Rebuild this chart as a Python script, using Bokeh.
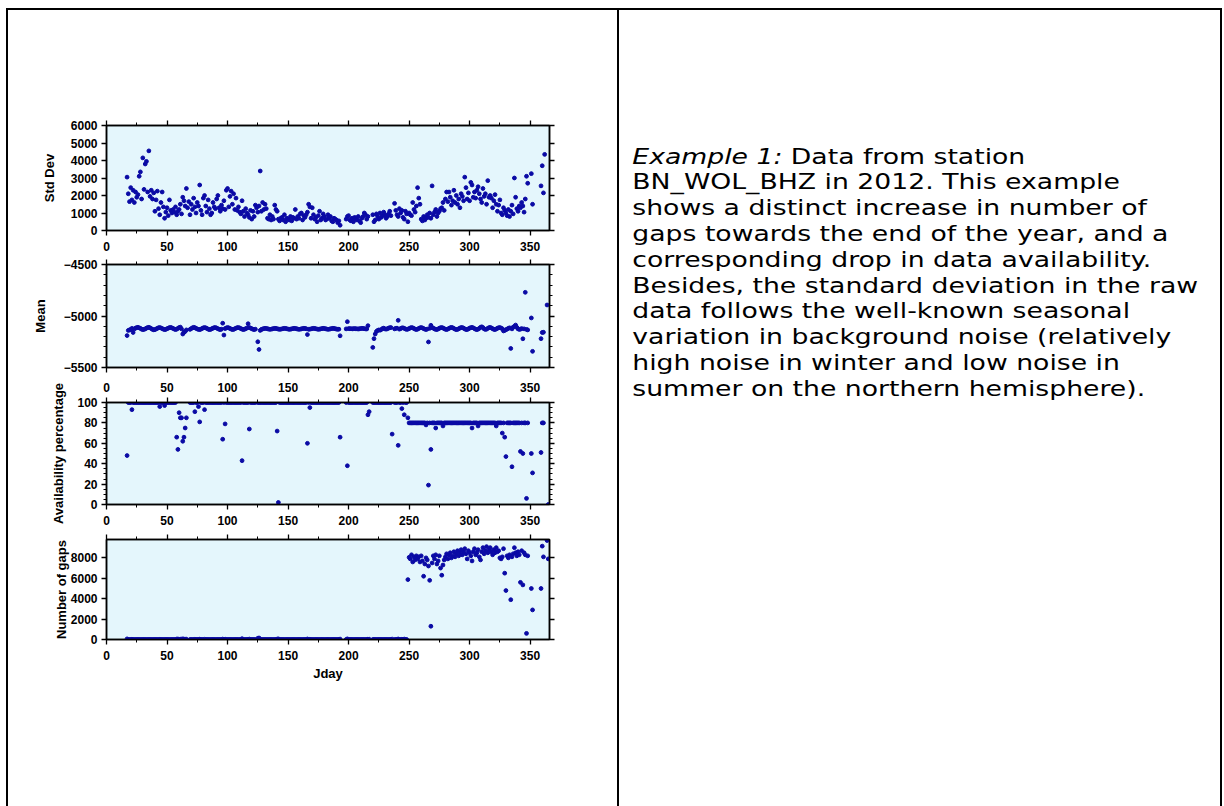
import numpy as np
from bokeh.plotting import figure
from bokeh.layouts import column, row
from bokeh.models import (Range1d, LinearAxis, SingleIntervalTicker, Spacer, Div,
                          ColumnDataSource, CustomLabelingPolicy)
from bokeh.core.properties import value
from bokeh.embed import file_html
from bokeh.resources import INLINE

# ---------------- data (one value per Julian day, 17 .. 366) ----------------
days = list(range(17, 367))

std_dev = [
    3050, 2100, 1650, 2450, 1750, 2300, 1600, 2200, 1900, 2050,
    3100, 3350, 1800, 4150, 2350, 3800, 3950, 2200, 4550, 1950,
    2300, 1800, 2150, 1100, 1750, 2250, 1250, 900, 1600, 2200,
    1350, 700, 1050, 1300, 850, 1750, 1150, 1000, 1200, 1050,
    1350, 900, 1100, 1200, 1500, 950, 1900, 1700, 1400, 2400,
    1300, 1650, 900, 1500, 1200, 1850, 1350, 1000, 1600, 1400,
    2600, 1150, 900, 1850, 2000, 1400, 1050, 1750, 1250, 900,
    1000, 1600, 1350, 1250, 1800, 2000, 1300, 1100, 1450, 1250,
    1700, 1200, 2300, 2400, 1350, 1950, 2250, 1500, 2100, 1200,
    1850, 1150, 1350, 1050, 950, 1700, 1100, 800, 1250, 1000,
    900, 750, 1150, 650, 1100, 800, 1450, 1300, 1050, 1400,
    3400, 1100, 1600, 1200, 1500, 1250, 700, 650, 900, 600,
    800, 650, 1450, 1200, 1100, 650, 550, 700, 750, 600,
    900, 500, 700, 650, 600, 800, 550, 750, 700, 1200,
    650, 800, 700, 950, 1000, 600, 850, 750, 900, 1050,
    1500, 1350, 700, 1300, 900, 650, 750, 500, 850, 1100,
    600, 700, 950, 800, 600, 650, 900, 700, 800, 550,
    500, 700, 650, 600, 450, 550, 300, None, None, None,
    None, 650, 800, 850, 600, 550, 700, 500, 750, 650,
    600, 800, 550, 450, 700, 800, 1000, 900, 650, 800,
    None, None, None, 900, 500, 600, 950, 800, 650, 1000,
    750, 850, 1050, 900, 700, 800, 950, 1100, 850, None,
    None, 1550, 1150, 900, 800, 1250, 1000, 1150, 750, 650,
    1100, 950, 500, 1000, 900, 850, 1600, 1200, 1050, 1400,
    2450, 1850, 1500, 650, 550, 800, 600, 700, 900, 750,
    1000, 700, 2550, 900, 1050, 1200, 800, 1000, 1100, 1250,
    1300, 1600, 1150, 1800, 2200, 1650, 2200, 1900, 1450, 1700,
    2300, 1600, 2000, 1500, 1800, 1300, 2100, 1950, 1700, 3050,
    2450, 1800, 2150, 1700, 2750, 2600, 1900, 2200, 1850, 2300,
    2500, 2100, 1800, 1600, 2400, 1950, 2100, 1500, 2850, 1900,
    2000, 1850, 1300, 1700, 2050, 1500, 1100, 1450, 1750, 1000,
    900, 1300, 1150, 1000, 850, 1200, 800, 1100, 1450, 950,
    3000, 1900, 1250, 1100, 1400, 1300, 1600, 1400, 1050, 1800,
    3100, 2700, None, None, 3250, 1500, None, None, None, None,
    None, None, 2550, 3700, 2150, 4350, None, None, None, None,
]

mean = [
    -5190, -5140, -5135, -5130, -5120, -5160, -5125, -5118, -5112, -5110,
    -5115, -5120, -5128, -5132, -5130, -5125, -5118, -5112, -5110, -5115,
    -5122, -5130, -5134, -5132, -5126, -5120, -5114, -5112, -5116, -5122,
    -5128, -5132, -5130, -5124, -5118, -5113, -5111, -5115, -5121, -5127,
    -5131, -5128, -5120, -5112, -5108, -5125, -5175, -5160, -5150, -5135,
    None, None, -5130, -5122, -5115, -5110, -5113, -5120, -5126, -5130,
    -5132, -5128, -5121, -5115, -5112, -5115, -5121, -5128, -5132, -5130,
    -5124, -5118, -5113, -5112, -5117, -5123, -5129, -5132, -5128, -5070,
    -5185, -5122, -5116, -5112, -5115, -5121, -5127, -5131, -5130, -5124,
    -5118, -5113, -5112, -5116, -5122, -5128, -5131, -5129, -5123, -5117,
    -5075, -5113, -5117, -5123, -5129, -5132, -5128, None, -5250, -5325,
    -5140, -5130, -5126, -5122, -5120, -5121, -5124, -5127, -5129, -5128,
    -5125, -5122, -5120, -5121, -5124, -5127, -5129, -5128, -5125, -5122,
    -5120, -5121, -5124, -5127, -5129, -5128, -5125, -5122, -5120, -5121,
    -5124, -5127, -5129, -5128, -5125, -5122, -5120, -5121, -5124, -5180,
    -5129, -5128, -5125, -5122, -5120, -5121, -5124, -5127, -5129, -5128,
    -5125, -5122, -5120, -5121, -5124, -5127, -5129, -5128, -5125, -5122,
    -5120, -5121, -5124, -5127, -5129, -5128, -5192, None, None, None,
    None, -5125, -5055, -5122, -5123, -5124, -5125, -5123, -5122, -5124,
    -5125, -5126, -5124, -5122, -5120, -5121, -5123, -5125, -5126, -5094,
    None, None, None, -5305, -5220, -5175, -5150, -5140, -5135, -5138,
    -5132, -5122, -5118, -5125, -5128, -5124, -5118, -5114, -5112, None,
    None, -5125, -5120, -5118, -5042, -5128, -5122, -5116, -5115, -5120,
    -5126, -5130, -5128, -5122, -5116, -5112, -5115, -5121, -5128, -5131,
    -5128, -5121, -5115, -5112, -5116, -5122, -5128, -5131, -5127, -5252,
    -5120, -5090, -5113, -5118, -5125, -5130, -5131, -5126, -5119, -5114,
    -5112, -5116, -5123, -5129, -5131, -5127, -5120, -5114, -5111, -5114,
    -5121, -5128, -5132, -5130, -5124, -5117, -5112, -5112, -5118, -5125,
    -5131, -5131, -5125, -5118, -5113, -5111, -5115, -5122, -5129, -5132,
    -5128, -5120, -5110, -5105, -5112, -5125, -5130, -5128, -5120, -5113,
    -5111, -5116, -5123, -5130, -5131, -5126, -5119, -5114, -5112, -5117,
    -5124, -5145, -5140, -5133, -5127, -5120, -5115, -5315, -5125, -5108,
    -5100, -5088, -5110, -5125, -5130, -5128, -5122, -5221, -5125, -4770,
    -5130, -5135, None, None, -5019, -5343, None, None, None, None,
    None, None, -5220, -5160, -5158, None, None, -4893, None, None,
]

availability = [
    48, 100, 100, 100, 93, 100, 100, 100, 100, 100,
    100, 100, 100, 100, 100, 100, 100, 100, 100, 100,
    100, 100, 100, 100, 100, 100, 100, 96, 100, 100,
    100, 97, 100, 100, 100, 100, 100, 100, 100, 100,
    100, 66, 54, 90, 85, 85, 62, 66, 75, 85,
    None, None, 100, 100, 100, 100, 91, 100, 100, 96,
    81, 100, 100, 100, 93, 100, 100, 100, 100, 100,
    100, 100, 100, 100, 100, 100, 100, 100, 100, 64,
    100, 79, 100, 100, 100, 100, 100, 100, 100, 100,
    100, 100, 100, 100, 100, 43, 100, 100, 100, 100,
    100, 74, 100, 100, 100, 100, 100, None, 100, 100,
    100, 100, 100, 100, 100, 100, 100, 100, 100, 100,
    100, 100, 100, 100, 72, 2, 100, 100, 100, 100,
    100, 100, 100, 100, 100, 100, 100, 100, 100, 100,
    100, 100, 100, 100, 100, 100, 100, 100, 100, 60,
    100, 95, 100, 100, 100, 100, 100, 100, 100, 100,
    100, 100, 100, 100, 100, 100, 100, 100, 100, 100,
    100, 100, 100, 100, 100, 100, 66, None, None, None,
    None, 100, 38, 100, 100, 100, 100, 100, 100, 100,
    100, 100, 100, 100, 100, 100, 100, 100, 100, 88,
    91, None, None, 100, 100, 100, 100, 100, 100, 100,
    100, 100, 100, 100, 100, 100, 100, 100, 100, 69,
    None, 100, 100, 100, 58, 100, 100, 94, 100, 88,
    100, 100, 85, 80, 80, 80, 80, 80, 80, 80,
    80, 80, 80, 80, 80, 80, 80, 78, 80, 19,
    80, 54, 80, 80, 80, 75, 80, 80, 80, 80,
    80, 77, 80, 80, 80, 80, 80, 80, 80, 80,
    80, 80, 80, 80, 80, 80, 80, 80, 80, 80,
    80, 80, 80, 80, 80, 75, 80, 80, 80, 80,
    77, 80, 80, 80, 80, 80, 80, 80, 80, 80,
    80, 80, 80, 80, 80, 77, 80, 80, 80, 80,
    70, 80, 66, 47, 80, 80, 80, 80, 37, 80,
    80, 80, 80, 80, 80, 52, 80, 50, 80, 80,
    6, 80, None, None, 50, 31, None, None, None, None,
    None, None, 51, 80, 80, None, None, None, 0, None,
]

gaps = [
    60, 0, 0, 0, 20, 0, 0, 0, 0, 0,
    0, 0, 0, 0, 0, 0, 0, 0, 0, 0,
    0, 0, 0, 0, 0, 0, 0, 10, 0, 0,
    0, 10, 0, 0, 0, 0, 0, 0, 0, 0,
    0, 40, 50, 20, 30, 30, 60, 40, 30, 30,
    None, None, 0, 0, 0, 0, 20, 0, 0, 10,
    30, 0, 0, 0, 20, 0, 0, 0, 0, 0,
    0, 0, 0, 0, 0, 0, 0, 0, 0, 40,
    0, 30, 0, 0, 0, 0, 0, 0, 0, 0,
    0, 0, 0, 0, 0, 80, 0, 0, 0, 0,
    0, 40, 0, 0, 0, 0, 0, None, 120, 150,
    30, 0, 0, 0, 0, 0, 0, 0, 0, 0,
    0, 0, 0, 0, 40, 60, 0, 0, 0, 0,
    0, 0, 0, 0, 0, 0, 0, 0, 0, 0,
    0, 0, 0, 0, 0, 0, 0, 0, 0, 50,
    0, 20, 0, 0, 0, 0, 0, 0, 0, 0,
    0, 0, 0, 0, 0, 0, 0, 0, 0, 0,
    0, 0, 0, 0, 0, 0, 40, None, None, None,
    None, 0, 60, 0, 0, 0, 0, 0, 0, 0,
    0, 0, 0, 0, 0, 0, 0, 0, 0, 30,
    30, None, None, 0, 0, 0, 0, 0, 0, 0,
    0, 0, 0, 0, 0, 0, 0, 0, 0, 40,
    None, 0, 0, 0, 50, 0, 0, 20, 0, 40,
    0, 0, 5870, 8050, 7900, 8300, 7600, 8100, 7800, 8200,
    7900, 8100, 7600, 8200, 7700, 6200, 7400, 8000, 7800, 7200,
    5800, 1300, 7500, 8200, 7900, 8300, 7400, 7700, 8200, 7000,
    6300, 7300, 7800, 8100, 8400, 7900, 8300, 8500, 8000, 8200,
    8600, 8100, 8400, 8700, 8200, 8500, 8800, 8300, 8600, 8900,
    8400, 7900, 8700, 8500, 8200, 7700, 8600, 8900, 8300, 8500,
    8800, 8100, 7800, 8600, 9000, 8400, 8700, 9100, 8500, 8800,
    9000, 8600, 8300, 8800, 8500, 9000, 8600, 8700, 8000, 7900,
    8100, 8900, 6500, 4800, 8200, 8000, 8300, 3900, 8100, 8400,
    9000, 8500, 8200, 8600, 8300, 5600, 8700, 5350, 8500, 8300,
    600, 8200, None, None, 5000, 2900, None, None, None, None,
    None, None, 5000, 9150, 8100, None, None, 9700, 7900, None,
]

x_label = "Jday"
y_labels = ["Std Dev", "Mean", "Availability percentage", "Number of gaps"]

caption_lead = "Example 1:"
caption_lines = [
    "Data from station",
    "BN_WOL_BHZ in 2012. This example",
    "shows a distinct increase in number of",
    "gaps towards the end of the year, and a",
    "corresponding drop in data availability.",
    "Besides, the standard deviation in the raw",
    "data follows the well-known seasonal",
    "variation in background noise (relatively",
    "high noise in winter and low noise in",
    "summer on the northern hemisphere).",
]

# ---------------- styling ----------------
BG = "#e4f6fc"
DOT = "#0a0aa5"
TICK_FONT = "Liberation Sans"
LEFT_W = 609


def style_axis(ax, show_labels=True, standoff=4):
    ax.axis_line_width = 1.5
    ax.axis_line_color = "black"
    ax.major_tick_line_width = 1.3
    ax.minor_tick_line_width = 1
    ax.major_tick_line_color = "black"
    ax.minor_tick_line_color = "black"
    ax.major_tick_out = 5
    ax.major_tick_in = 0
    ax.minor_tick_out = 3
    ax.minor_tick_in = 0
    ax.major_label_text_font = TICK_FONT
    ax.major_label_text_font_style = "bold"
    ax.major_label_text_color = "black"
    if show_labels:
        ax.major_label_text_font_size = "12px"
        ax.major_label_standoff = standoff
    else:
        ax.major_label_text_font_size = "0px"
        ax.major_label_standoff = 0
        ax.major_label_policy = CustomLabelingPolicy(
            code="for (const i of indices) indices.unset(i)")
    ax.axis_label_text_font = TICK_FONT
    ax.axis_label_text_font_style = "bold"
    ax.axis_label_text_font_size = "13px"
    ax.axis_label_text_color = "black"


def panel(vals, y0, y1, yint, yminor, ylabel, ylab_standoff, top, frame_h, bottom,
          xlab=None, bottom_labels=True, top_labels=False):
    p = figure(width=LEFT_W, height=top + frame_h + bottom,
               x_range=Range1d(0, 366), y_range=Range1d(y0, y1),
               output_backend="svg", toolbar_location=None,
               min_border_left=98, min_border_right=68,
               min_border_top=top, min_border_bottom=bottom,
               background_fill_color=BG, border_fill_color="white",
               outline_line_color="black", outline_line_width=1.5)
    p.xgrid.visible = False
    p.ygrid.visible = False
    p.xaxis.ticker = SingleIntervalTicker(interval=50, num_minor_ticks=2)
    p.yaxis.ticker = SingleIntervalTicker(interval=yint, num_minor_ticks=yminor)
    style_axis(p.xaxis[0], bottom_labels, 6)
    style_axis(p.yaxis[0], True, 4)
    p.yaxis.axis_label = ylabel
    p.yaxis.axis_label_standoff = ylab_standoff
    if xlab:
        p.xaxis.axis_label = xlab
        p.xaxis.axis_label_standoff = 3
    top_ax = LinearAxis(ticker=SingleIntervalTicker(interval=50, num_minor_ticks=2))
    style_axis(top_ax, top_labels, 6)
    p.add_layout(top_ax, "above")
    right_ax = LinearAxis(ticker=SingleIntervalTicker(interval=yint, num_minor_ticks=yminor))
    style_axis(right_ax, False)
    p.add_layout(right_ax, "right")
    src = ColumnDataSource(dict(day=days, v=np.array(vals, dtype=float)))
    p.scatter("day", "v", source=src, size=3.8, color=DOT, line_color=DOT, marker="circle")
    return p


p1 = panel(std_dev, 0, 6000, 1000, 0, y_labels[0], 11, 115, 105, 28)
p2 = panel(mean, -5500, -4500, 500, 5, y_labels[1], 13, 6, 103, 9, bottom_labels=False)
p3 = panel(availability, 0, 100, 20, 4, y_labels[2], 8, 26, 102, 29, top_labels=True)
p4 = panel(gaps, 0, 9800, 2000, 0, y_labels[3], -1, 6, 100, 167, x_label)

left_col = column(p1, p2, p3, p4, spacing=0)

# ---------------- caption cell (horizontally stretched like the reference) ----------------
CELL_W = 601
BODY_H = 796
STRETCH = 1.27
TW = int(round(CELL_W / STRETCH))
tf = figure(width=TW, height=BODY_H, x_range=Range1d(0, CELL_W), y_range=Range1d(BODY_H, 0),
            output_backend="svg", toolbar_location=None, min_border=0,
            x_axis_type=None, y_axis_type=None, outline_line_color=None,
            background_fill_color=None, border_fill_color=None,
            styles={"transform": f"scaleX({STRETCH})", "transform-origin": "0 0"})
tf.xgrid.visible = False
tf.ygrid.visible = False
FS = 21
LINE_H = 25.8
X0 = 10
BASE0 = 146
tf.text(x=[X0], y=[BASE0], text=[caption_lead], text_font=value("DejaVu Sans"),
        text_font_style="italic", text_font_size=f"{FS}px", text_baseline="alphabetic",
        text_color="black")
xs = [X0 + 125] + [X0] * (len(caption_lines) - 1)
ys = [BASE0 + i * LINE_H for i in range(len(caption_lines))]
tf.text(x=xs, y=ys, text=caption_lines, text_font=value("DejaVu Sans"),
        text_font_size=f"{FS}px", text_baseline="alphabetic", text_color="black")


def rule(w, h):
    return Div(width=w, height=h, margin=0, styles={"background-color": "black"})


body = row(Spacer(width=6, height=BODY_H, margin=0), rule(2, BODY_H), left_col, rule(2, BODY_H),
           tf, Spacer(width=CELL_W - TW, height=BODY_H, margin=0), rule(2, BODY_H), spacing=0)
top_line = row(Spacer(width=6, height=2, margin=0), rule(1216, 2), spacing=0)
layout = column(Spacer(width=1222, height=8, margin=0), top_line, body, spacing=0)

open("out.html", "w").write(file_html(layout, INLINE))
